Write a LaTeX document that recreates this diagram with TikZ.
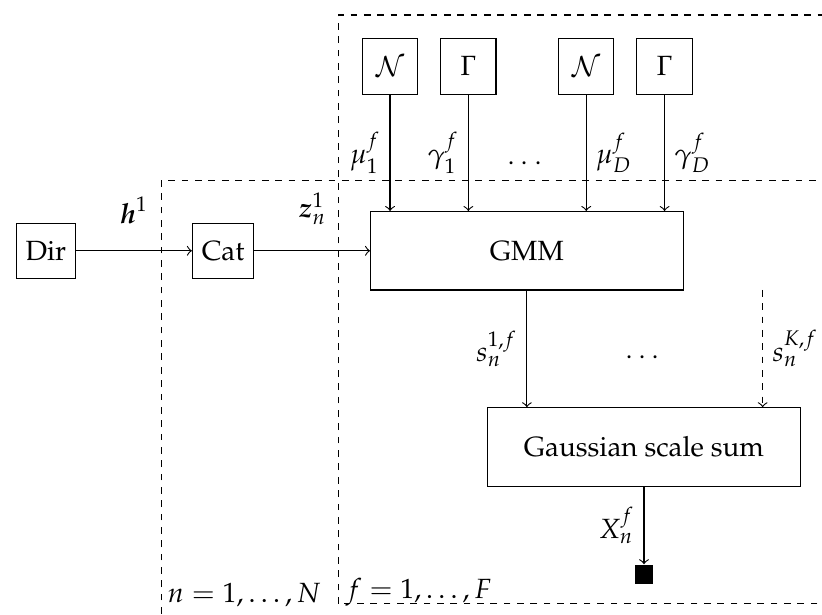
\documentclass[tikz,border=0pt]{standalone}
\usepackage{amsmath}
\usepackage[T1]{fontenc}
\usepackage{mathpazo}
\usetikzlibrary{positioning,calc}

\begin{document}
\begin{tikzpicture}[>=to,
                       box/.style={draw,minimum size=0.7cm},
                       wide box/.style={draw,minimum width=3.95cm,minimum height=0.99cm},
                       plate/.style={dash pattern=on 2.4pt off 2.4pt}
                      ]
   \useasboundingbox (0,0) rectangle (10.39,7.77);
   \clip (0,0) rectangle (10.39,7.77);
   % plates
   \draw[plate] (2.04,-1.0) rectangle (11.0,5.49);
   \draw[plate] (4.28,0.14) rectangle (11.0,7.58);
   \node[anchor=base west,inner sep=1pt] (nlab) at (2.08,0.16) {$n=1,\dots,N$};
   \node[anchor=base west,inner sep=1pt] (flab) at (4.33,0.20) {$f=1,\dots,F$};
   % nodes
   \node[box] (dir) at (0.58,4.60) {Dir};
   \node[box] (cat) at (2.82,4.60) {Cat};
   \node[wide box] (gmm) at (6.66,4.60) {GMM};
   \node[box] (normA) at (4.93,6.93) {$\mathcal{N}$};
   \node[box] (gammaA) at (5.92,6.93) {$\Gamma$};
   \node[box] (normB) at (7.41,6.93) {$\mathcal{N}$};
   \node[box] (gammaB) at (8.40,6.93) {$\Gamma$};
   \node[wide box] (gss) at (8.14,2.12) {Gaussian scale sum};
   \node[fill,minimum size=0.24cm,inner sep=0pt] (obs) at (8.14,0.51) {};
   \coordinate (sK) at (9.64,4.105);
   \path[->]%
    (dir) edge node[above=6pt] {$\boldsymbol{h}^1$} (cat)
    (cat) edge node[above=6pt] {$\boldsymbol{z}_n^1$} (gmm)
    (normA) edge node[left] {$\mu_1^f$} (normA |- gmm.north)
    (gammaA) edge node[left] {$\gamma_1^f$} (gammaA |- gmm.north)
    (normB) edge node[right] {$\mu_D^f$} (normB |- gmm.north)
    (gammaB) edge node[right] {$\gamma_D^f$} (gammaB |- gmm.north)
    (gmm.south) edge node[left] {$s_n^{1,f}$} (gmm.south |- gss.north)
    (sK) edge[plate] node[right] {$s_n^{K,f}$} (sK |- gss.north)
    (gss) edge node[left] {$X_n^f$} (obs);
   \node (dotsA) at ($(gammaA)!0.5!(normB) + (0,-1.24)$) {$\cdots$};
   \node (dotsB) at ($(gmm.south)!0.5!(sK) + (0,-0.86)$) {$\cdots$};
  \end{tikzpicture}
\end{document}
